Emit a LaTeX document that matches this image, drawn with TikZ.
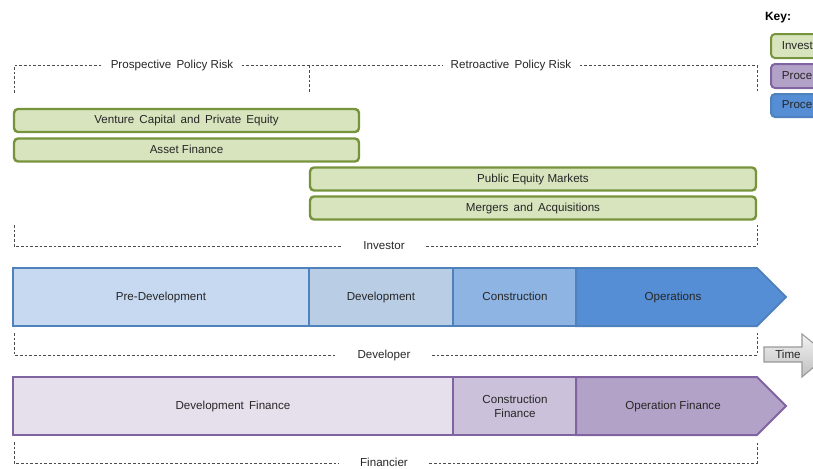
\documentclass[tikz,border=0pt]{standalone}
\usepackage{fontspec}
\setmainfont{Liberation Sans}
\usetikzlibrary{positioning}

\definecolor{invfill}{HTML}{D7E4BD}
\definecolor{invline}{HTML}{77933C}
\definecolor{devline}{HTML}{4F81BD}
\definecolor{predevfill}{HTML}{C6D9F1}
\definecolor{devfill}{HTML}{B9CDE5}
\definecolor{consfill}{HTML}{8EB4E3}
\definecolor{opsfill}{HTML}{558ED5}
\definecolor{finline}{HTML}{8064A2}
\definecolor{devfinfill}{HTML}{E6E0EC}
\definecolor{confinfill}{HTML}{CCC1DA}
\definecolor{opfinfill}{HTML}{B3A2C7}

\begin{document}
\begin{tikzpicture}[x=0.75pt,y=-0.75pt,
  font=\fontsize{8.7}{10}\selectfont, text=black!85,
  every node/.style={text height=6.3pt,text depth=1.6pt},
  invbox/.style={draw=invline,fill=invfill,line width=1.8pt,rounded corners=3pt,
    minimum height=23*0.75pt,inner sep=0pt},
  devseg/.style={draw=devline,line width=1.5pt,line join=miter},
  finseg/.style={draw=finline,line width=1.5pt,line join=miter},
  bracket/.style={draw=black!70,line width=0.6pt,dash pattern=on 2pt off 1.5pt},
  toplabel/.style={inner xsep=6pt,inner ysep=1pt},
  sidelabel/.style={inner xsep=16pt,inner ysep=1pt},
  keybox/.style={line width=1.5pt,rounded corners=3pt}]
\useasboundingbox (0,0) rectangle (813,468);

% key
\node[font=\fontsize{9}{10}\selectfont\bfseries,text=black] (key) at (778,17) {Key:};
\draw[keybox,draw=invline,fill=invfill] (771,34) rectangle (840,58);
\node[anchor=west,inner sep=0pt] (keyinv) at (781.5,46) {Invest};
\draw[keybox,draw=finline,fill=opfinfill] (771,64) rectangle (840,88);
\node[anchor=east,inner sep=0pt] (keyfin) at (812.5,76) {Proce};
\draw[keybox,draw=devline,fill=opsfill] (771,94) rectangle (840,117);
\node[anchor=east,inner sep=0pt] (keydev) at (812.5,105.5) {Proce};

% policy risk
\node[toplabel] (prosp) at (172,65.5) {Prospective\, Policy Risk};
\node[toplabel] (retro) at (511,65.5) {Retroactive\, Policy Risk};
\draw[bracket] (14,93) -- (14,65.5) -- (prosp.west);
\draw[bracket] (prosp.east) -- (retro.west);
\draw[bracket] (retro.east) -- (757,65.5) -- (757,93);
\draw[bracket] (309,65.5) -- (309,93);

% investor
\node[invbox,minimum width=345*0.75pt] (vc) at (186.5,120.5) {Venture\, Capital\, and\, Private\, Equity};
\node[invbox,minimum width=345*0.75pt] (af) at (186.5,150) {Asset Finance};
\node[invbox,minimum width=446*0.75pt] (pem) at (533,179) {Public Equity Markets};
\node[invbox,minimum width=446*0.75pt] (ma) at (533,208) {Mergers\, and\, Acquisitions};
\node[sidelabel] (inv) at (384,246) {Investor};
\draw[bracket] (14,225) -- (14,246) -- (inv.west);
\draw[bracket] (inv.east) -- (757,246) -- (757,225);

% developer
\draw[devseg,fill=predevfill] (13,268) rectangle (309,326);
\draw[devseg,fill=devfill] (309,268) rectangle (453,326);
\draw[devseg,fill=consfill] (453,268) rectangle (576,326);
\draw[devseg,fill=opsfill] (576,268) -- (757,268) -- (786,297) -- (757,326) -- (576,326) -- cycle;
\node (predev) at (161,297) {Pre-Development};
\node (dev) at (381,297) {Development};
\node (cons) at (515,297) {Construction};
\node (ops) at (673,297) {Operations};
\node[sidelabel] (devr) at (384,355) {Developer};
\draw[bracket] (14,333) -- (14,355) -- (devr.west);
\draw[bracket] (devr.east) -- (757,355) -- (757,333);

% time
\draw[draw=black!40,line width=0.8pt,top color=black!5,bottom color=black!25]
  (764,347) -- (802,347) -- (802,334) -- (828,355) -- (802,377) -- (802,362) -- (764,362) -- cycle;
\node (time) at (788,355) {Time};

% financier
\draw[finseg,fill=devfinfill] (13,377) rectangle (453,435);
\draw[finseg,fill=confinfill] (453,377) rectangle (576,435);
\draw[finseg,fill=opfinfill] (576,377) -- (757,377) -- (786,406) -- (757,435) -- (576,435) -- cycle;
\node (devfin) at (233,406) {Development\, Finance};
\node[align=center,font=\fontsize{8.7}{10.5}\selectfont,text height=,text depth=] (confin) at (515,406) {Construction\\Finance};
\node (opfin) at (673,406) {Operation Finance};
\node[sidelabel] (fin) at (384,463) {Financier};
\draw[bracket] (14,442) -- (14,463) -- (fin.west);
\draw[bracket] (fin.east) -- (757,463) -- (757,442);

\end{tikzpicture}
\end{document}
